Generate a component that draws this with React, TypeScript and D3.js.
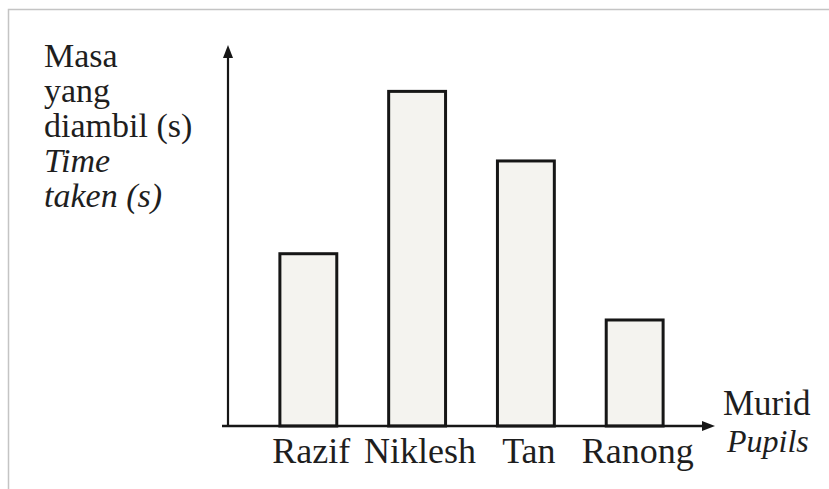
import React from "react";
import * as d3 from "d3";

const pupils = ["Razif", "Niklesh", "Tan", "Ranong"];
const timeTaken = [52, 101, 80, 32];
const yLabelMalay = ["Masa", "yang", "diambil (s)"];
const yLabelEnglish = ["Time", "taken (s)"];
const xLabelMalay = "Murid";
const xLabelEnglish = "Pupils";

const W = 829;
const H = 489;
const axisX = 228;
const axisY = 426;
const axisTopY = 45;
const axisRightX = 715;

export default function App() {
  const x = d3
    .scaleBand<string>()
    .domain(pupils)
    .range([axisX, axisRightX])
    .paddingInner(0.477)
    .paddingOuter(0.477)
    .align(0.5);
  const y = d3.scaleLinear().domain([0, 115]).range([axisY, axisTopY]);
  const font = '"Liberation Serif"';
  const textColor = "#1e1e1e";
  const ts = (size: number, italic = false): React.CSSProperties => ({
    fontFamily: font,
    fontSize: size,
    fontStyle: italic ? "italic" : "normal",
    fill: textColor,
  });

  const yLines = [
    ...yLabelMalay.map((t) => ({ t, italic: false })),
    ...yLabelEnglish.map((t) => ({ t, italic: true })),
  ];

  return (
    <svg
      width={W}
      height={H}
      style={{ position: "absolute", left: 0, top: 0, background: "#fff" }}
    >
      <rect x={8.5} y={9.5} width={900} height={900} fill="#fff" stroke="#c4c4c4" strokeWidth={1.5} />

      {pupils.map((p, i) => (
        <rect
          key={p}
          x={x(p)}
          y={y(timeTaken[i])}
          width={x.bandwidth()}
          height={axisY - y(timeTaken[i])}
          fill="#f4f3ef"
          stroke="#161616"
          strokeWidth={3}
        />
      ))}

      <line x1={axisX} y1={axisY + 1} x2={axisX} y2={axisTopY + 8} stroke="#161616" strokeWidth={2.2} />
      <path d={`M${axisX},${axisTopY} L${axisX - 5},${axisTopY + 13} L${axisX + 5},${axisTopY + 13} Z`} fill="#161616" />
      <line x1={axisX - 6} y1={axisY} x2={axisRightX - 8} y2={axisY} stroke="#161616" strokeWidth={2.6} />
      <path d={`M${axisRightX},${axisY} L${axisRightX - 13},${axisY - 5} L${axisRightX - 13},${axisY + 5} Z`} fill="#161616" />

      {pupils.map((p) => (
        <text
          key={p}
          x={(x(p) ?? 0) + x.bandwidth() / 2 + 3}
          y={463}
          textAnchor="middle"
          style={ts(36)}
        >
          {p}
        </text>
      ))}

      <text x={44} y={67} style={ts(34)}>
        {yLines.map((l, i) => (
          <tspan
            key={l.t}
            x={44}
            dy={i === 0 ? 0 : 35}
            style={{ fontStyle: l.italic ? "italic" : "normal", fontSize: 34 }}
          >
            {l.t}
          </tspan>
        ))}
      </text>

      <text x={723} y={415} style={ts(35)}>
        {xLabelMalay}
      </text>
      <text x={727} y={452} style={ts(32, true)}>
        {xLabelEnglish}
      </text>
    </svg>
  );
}
